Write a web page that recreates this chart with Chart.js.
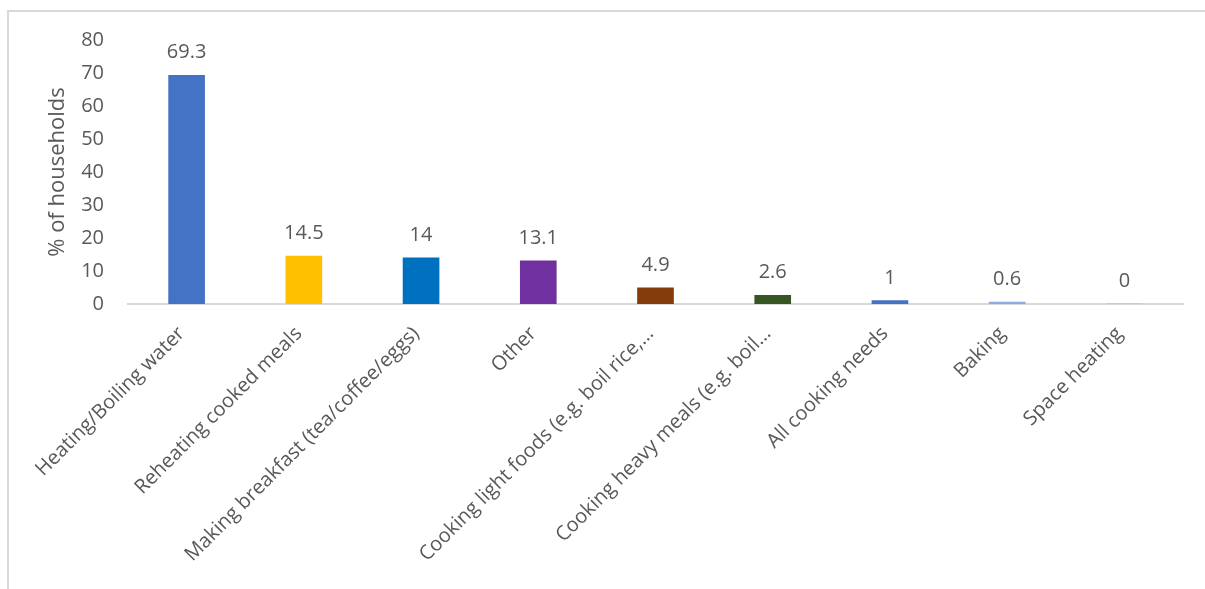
<!DOCTYPE html>
<html>
<head>
<meta charset="utf-8">
<script src="https://cdn.jsdelivr.net/npm/chart.js@4/dist/chart.umd.min.js"></script>
<style>
  html, body { margin: 0; padding: 0; background: #fff; }
  #wrap { position: relative; width: 1205px; height: 589px; overflow: hidden; }
  #frame {
    position: absolute; left: 7px; top: 10px; width: 1300px; height: 700px;
    border-left: 2px solid #d9d9d9; border-top: 2px solid #d9d9d9;
  }
  #grafico { position: absolute; left: 0; top: 0; }
</style>
</head>
<body>
<div id="wrap">
  <div id="frame"></div>
  <canvas id="grafico" width="1205" height="589"></canvas>
</div>
<script>
// Usos relatados (% de domicílios)
const categorias = [
    'Heating/Boiling water',
    'Reheating cooked meals',
    'Making breakfast (tea/coffee/eggs)',
    'Other',
    'Cooking light foods (e.g. boil rice,…',
    'Cooking heavy meals (e.g. boil…',
    'All cooking needs',
    'Baking',
    'Space heating'
];
const percentuais = [69.3, 14.5, 14, 13.1, 4.9, 2.6, 1, 0.6, 0];
const coresBarras = ['#4472c4', '#ffc000', '#0070c0', '#7030a0', '#843c0c', '#375623', '#4472c4', '#8faadc', '#a5a5a5'];

const fonte = "'Open Sans', 'Noto Sans', sans-serif";
const corTexto = '#595959';

// Escreve o valor acima de cada barra
const rotulosValores = {
    id: 'rotulosValores',
    afterDatasetsDraw(chart) {
        const ctx = chart.ctx;
        const meta = chart.getDatasetMeta(0);
        ctx.save();
        ctx.font = '20px ' + fonte;
        ctx.fillStyle = corTexto;
        ctx.textAlign = 'center';
        ctx.textBaseline = 'alphabetic';
        meta.data.forEach((barra, i) => {
            ctx.fillText(String(percentuais[i]), barra.x, barra.y - 17);
        });
        ctx.restore();
    }
};

const ctx = document.getElementById('grafico').getContext('2d');
new Chart(ctx, {
    type: 'bar',
    data: {
        labels: categorias,
        datasets: [{
            data: percentuais,
            backgroundColor: coresBarras,
            barThickness: 36,
            borderWidth: 0
        }]
    },
    options: {
        responsive: false,
        animation: false,
        layout: { padding: { top: 40, right: 22, left: 0, bottom: 0 } },
        plugins: {
            legend: { display: false },
            tooltip: { enabled: false }
        },
        scales: {
            x: {
                grid: { display: false, drawTicks: false },
                border: { display: true, color: '#d9d9d9', width: 2 },
                ticks: {
                    autoSkip: false,
                    minRotation: 45,
                    maxRotation: 45,
                    padding: 18,
                    labelOffset: -5,
                    color: corTexto,
                    font: { family: fonte, size: 20 }
                },
                afterFit(escala) { escala.height = 285; }
            },
            y: {
                min: 0,
                max: 80,
                grid: { display: false, drawTicks: false },
                border: { display: false },
                ticks: {
                    stepSize: 10,
                    padding: 24,
                    color: corTexto,
                    font: { family: fonte, size: 20 }
                },
                title: {
                    display: true,
                    text: '% of households',
                    color: corTexto,
                    padding: { top: 45, bottom: 0 },
                    font: { family: fonte, size: 22 }
                },
                afterFit(escala) { escala.width = 128; }
            }
        }
    },
    plugins: [rotulosValores]
});
</script>
</body>
</html>
